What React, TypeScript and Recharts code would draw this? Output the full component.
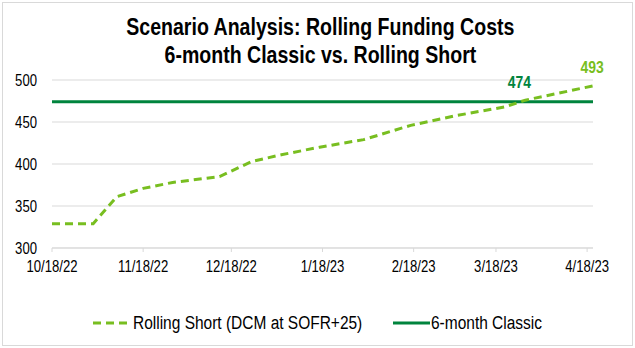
import { LineChart, Line, XAxis, YAxis, CartesianGrid } from 'recharts';

const FONT = '"Liberation Sans", Arial, sans-serif';
const NARROW = 0.82; // no Arial Narrow installed, so squeeze Liberation Sans
const LIGHT_GREEN = '#78BE20';
const DARK_GREEN = '#00843D';

const dates = [
  '2022-10-18', '2022-11-01', '2022-11-09', '2022-11-18', '2022-11-28',
  '2022-12-14', '2022-12-25', '2023-01-04', '2023-01-17', '2023-02-01',
  '2023-02-17', '2023-03-05', '2023-03-21', '2023-03-28', '2023-04-20',
];
const rollingShort = [329, 329, 361, 371, 378, 385, 403, 411, 420, 429, 446, 458, 468, 476, 493];
const classic = [474, 474, 474, 474, 474, 474, 474, 474, 474, 474, 474, 474, 474, 474, 474];

const xTickDates = ['2022-10-18', '2022-11-18', '2022-12-18', '2023-01-18', '2023-02-18', '2023-03-18', '2023-04-18'];
const yTicks = [300, 350, 400, 450, 500];

const toTime = (d: string) => Date.parse(d + 'T00:00:00Z');
const fmtDate = (t: number) => {
  const d = new Date(t);
  return `${d.getUTCMonth() + 1}/${d.getUTCDate()}/${String(d.getUTCFullYear()).slice(2)}`;
};

const data = dates.map((d, i) => ({ t: toTime(d), short: rollingShort[i], classic: classic[i] }));

const CLASSIC_LABEL_IDX = 13;
const SHORT_LABEL_IDX = dates.length - 1;

const XTick = ({ x, y, payload }: any) => (
  <text transform={`translate(${x},${y}) scale(${NARROW},1)`} textAnchor="middle" dy="0.71em" fill="#000" fontSize={16} fontFamily={FONT}>
    {fmtDate(payload.value)}
  </text>
);

const YTick = ({ x, y, payload }: any) => (
  <text transform={`translate(${x},${y}) scale(${NARROW},1)`} textAnchor="end" dy="0.355em" fill="#000" fontSize={16} fontFamily={FONT}>
    {payload.value}
  </text>
);

const valueLabel = (idx: number, color: string, dx: number, dy: number) => (p: any) =>
  p.index === idx ? (
    <text key={`lbl-${idx}`} transform={`translate(${p.x + dx},${p.y + dy}) scale(${NARROW},1)`} textAnchor="middle" fill={color} fontSize={17} fontWeight="bold" fontFamily={FONT}>
      {p.value}
    </text>
  ) : null;

const squeeze = (origin: string, scale = NARROW): React.CSSProperties => ({
  display: 'inline-block',
  transform: `scaleX(${scale})`,
  transformOrigin: origin,
  whiteSpace: 'nowrap',
});

export default function App() {
  return (
    <div style={{ position: 'absolute', left: 0, top: 0, width: 635, height: 348, background: '#fff', fontFamily: FONT, color: '#000' }}>
      <div style={{ position: 'absolute', inset: 2, border: '1px solid #d9d9d9', pointerEvents: 'none' }} />
      <div style={{ position: 'absolute', left: 0, width: 640, top: 13, textAlign: 'center', fontWeight: 'bold', fontSize: 23, lineHeight: '28px' }}>
        <div><span style={squeeze('center', 0.85)}>Scenario Analysis: Rolling Funding Costs</span></div>
        <div><span style={squeeze('center', 0.85)}>6-month Classic vs. Rolling Short</span></div>
      </div>
      <LineChart width={635} height={348} data={data} margin={{ top: 80, right: 42, bottom: 70, left: 8 }}>
        <CartesianGrid vertical={false} stroke="#d9d9d9" />
        <XAxis
          dataKey="t"
          type="number"
          scale="time"
          domain={['dataMin', 'dataMax']}
          ticks={xTickDates.map(toTime)}
          stroke="#d9d9d9"
          tickSize={4}
          tickMargin={9}
          tick={<XTick />}
          interval={0}
          height={30}
        />
        <YAxis
          domain={[300, 500]}
          ticks={yTicks}
          axisLine={false}
          tickLine={false}
          width={44}
          tickSize={6}
          tickMargin={9}
          tick={<YTick />}
        />
        <Line
          dataKey="classic"
          stroke={DARK_GREEN}
          strokeWidth={3}
          dot={false}
          isAnimationActive={false}
          label={valueLabel(CLASSIC_LABEL_IDX, DARK_GREEN, -6, -14)}
        />
        <Line
          dataKey="short"
          stroke={LIGHT_GREEN}
          strokeWidth={3}
          strokeDasharray="8 5"
          dot={false}
          isAnimationActive={false}
          label={valueLabel(SHORT_LABEL_IDX, LIGHT_GREEN, -1, -13)}
        />
      </LineChart>
      <svg style={{ position: 'absolute', left: 0, top: 0 }} width={635} height={348} pointerEvents="none">
        <line x1={93} y1={323} x2={129} y2={323} stroke={LIGHT_GREEN} strokeWidth={3} strokeDasharray="8 5" />
        <line x1={393} y1={323} x2={430} y2={323} stroke={DARK_GREEN} strokeWidth={3} />
      </svg>
      <div style={{ position: 'absolute', top: 313, left: 133, fontSize: 18, lineHeight: '20px' }}>
        <span style={squeeze('left', 0.86)}>Rolling Short (DCM at SOFR+25)</span>
      </div>
      <div style={{ position: 'absolute', top: 313, left: 431, fontSize: 18, lineHeight: '20px' }}>
        <span style={squeeze('left', 0.86)}>6-month Classic</span>
      </div>
    </div>
  );
}
